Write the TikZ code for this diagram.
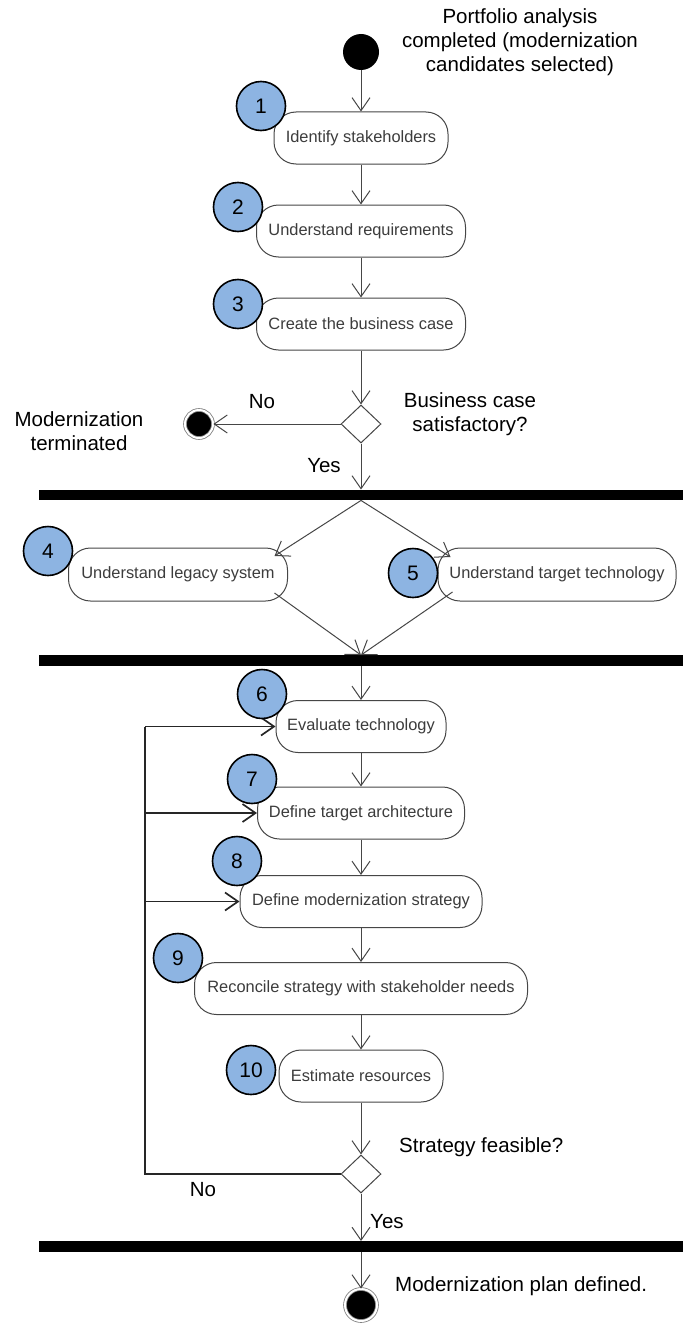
\documentclass[tikz,border=0pt]{standalone}
\usepackage{fontspec}
\setmainfont{Liberation Sans}
\usetikzlibrary{shapes.geometric,arrows.meta,calc}
\definecolor{numblue}{RGB}{141,180,226}
\definecolor{boxtext}{RGB}{60,60,60}
\definecolor{edge}{RGB}{70,70,70}
\begin{document}
\begin{tikzpicture}[x=1pt,y=-1pt,
  act/.style={draw=edge, rectangle, rounded corners=22pt, minimum height=52pt,
    fill=white, line width=1pt, inner sep=0pt, text=boxtext,
    font=\fontsize{16.4}{19}\selectfont},
  num/.style={circle, draw=black, line width=1.6pt, fill=numblue,
    minimum size=49pt, inner sep=0pt, font=\fontsize{21}{21}\selectfont},
  bar/.style={rectangle, fill=black, minimum width=644pt, minimum height=10.5pt, inner sep=0pt},
  decision/.style={diamond, draw=edge, fill=white, line width=1pt,
    minimum width=40pt, minimum height=38pt, inner sep=0pt},
  initial/.style={circle, fill=black, minimum size=36pt, inner sep=0pt},
  final/.style={circle, fill=black, draw=gray, line width=0.8pt, double=white,
    double distance=2pt, inner sep=0pt},
  lbl/.style={font=\fontsize{20.5}{24}\selectfont, align=center, inner sep=0pt},
  arr/.style={draw=edge, line width=1pt, -{Straight Barb[length=13pt,width=18pt]}},
  loopline/.style={draw=black!85, line width=1.7pt},
  looparr/.style={draw=black!85, line width=1.7pt, -{Straight Barb[length=13pt,width=18pt]}},
]
\useasboundingbox (0,0) rectangle (686,1327);

% start and first activities
\node[initial] (start) at (361,52) {};
\node[lbl] (startlbl) at (520,42) {Portfolio analysis\\completed (modernization\\candidates selected)};
\node[act, minimum width=174pt] (b1) at (361,138) {Identify stakeholders};
\node[act, minimum width=209pt] (b2) at (361,231) {Understand requirements};
\node[act, minimum width=209pt] (b3) at (361,324) {Create the business case};

% business case decision
\node[decision] (d1) at (361,424) {};
\node[final, minimum size=28pt] (e1) at (199,424) {};
\node[lbl] (termlbl) at (79,431.5) {Modernization\\terminated};
\node[lbl] (bclbl) at (470,414) {Business case\\satisfactory?};
\node[lbl] (no1) at (262,402) {No};
\node[lbl] (yes1) at (324,466) {Yes};

% fork / join
\node[bar] (bar1) at (361,495) {};
\node[act, minimum width=219pt, minimum height=53pt] (b4) at (178,574.5) {Understand legacy system};
\node[act, minimum width=238pt, minimum height=53pt] (b5) at (557,574.5) {Understand target technology};
\node[bar] (bar2) at (361,660.5) {};

% strategy activities
\node[act, minimum width=170pt] (b6) at (361,726.5) {Evaluate technology};
\node[act, minimum width=207pt] (b7) at (361,813) {Define target architecture};
\node[act, minimum width=242pt] (b8) at (361,901.5) {Define modernization strategy};
\node[act, minimum width=333pt] (b9) at (361,988.5) {Reconcile strategy with stakeholder needs};
\node[act, minimum width=164pt] (b10) at (361,1076) {Estimate resources};

% feasibility decision and end
\node[decision] (d2) at (361,1174) {};
\node[lbl, anchor=west] (sflbl) at (399,1147) {Strategy feasible?};
\node[lbl] (no2) at (203,1190) {No};
\node[lbl, anchor=west] (yes2) at (370,1222) {Yes};
\node[bar] (bar3) at (361,1246.5) {};
\node[final, minimum size=32pt] (e2) at (361,1305) {};
\node[lbl, anchor=west] (endlbl) at (395,1286) {Modernization plan defined.};

% control flow
\draw[arr] (start) -- (b1);
\draw[arr] (b1) -- (b2);
\draw[arr] (b2) -- (b3);
\draw[arr] (b3) -- (d1.north);
\draw[arr] (d1.west) -- (e1);
\draw[arr] (d1.south) -- (bar1.north);
\draw[arr] (bar1.south) -- ($(b4.east)+(-13.5,-18.5)$);
\draw[arr] (bar1.south) -- ($(b5.west)+(13,-17.5)$);
\draw[arr] ($(b4.east)+(-13.5,18.5)$) -- (bar2.north);
\draw[arr] ($(b5.west)+(15,17.5)$) -- (bar2.north);
\draw[arr] (bar2.south) -- (b6);
\draw[arr] (b6) -- (b7);
\draw[arr] (b7) -- (b8);
\draw[arr] (b8) -- (b9);
\draw[arr] (b9) -- (b10);
\draw[arr] (b10) -- (d2.north);
\draw[arr] (d2.south) -- (bar3.north);
\draw[arr] (bar3.south) -- (e2);

% loop back when the strategy is not feasible
\coordinate (lpb) at (145,1174);
\coordinate (lpt) at (145,726.5);
\draw[loopline] (d2.west) -- (lpb) -- (lpt);
\draw[looparr] (lpt) -- (b6.west);
\draw[looparr] (lpb |- b7.west) -- (b7.west);
\draw[looparr] (lpb |- b8.west) -- (b8.west);

% step numbers
\node[num] (n1) at (261,106) {1};
\node[num] (n2) at (238,207) {2};
\node[num] (n3) at (238,304) {3};
\node[num] (n4) at (48,551) {4};
\node[num] (n5) at (413,573) {5};
\node[num] (n6) at (262,694) {6};
\node[num] (n7) at (252,779) {7};
\node[num] (n8) at (237,861) {8};
\node[num] (n9) at (178,958) {9};
\node[num] (n10) at (251,1070) {10};
\end{tikzpicture}
\end{document}
